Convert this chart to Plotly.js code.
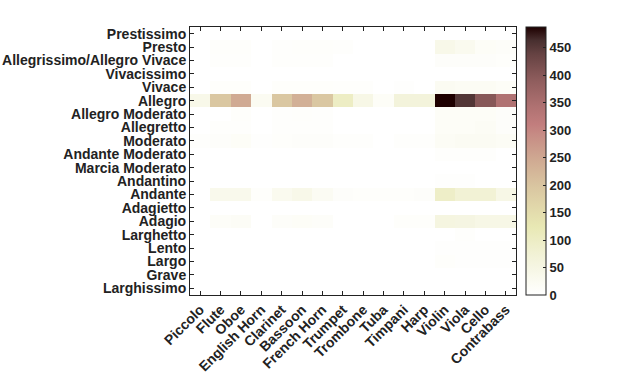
<!DOCTYPE html>
<html>
<head>
<meta charset="utf-8">
<script src="https://cdn.plot.ly/plotly-3.0.1.min.js"></script>
<style>html,body{margin:0;padding:0;background:#fff;}#chart{width:620px;height:373px;}</style>
</head>
<body>
<div id="chart"></div>
<script>
var instruments = ["Piccolo","Flute","Oboe","English Horn","Clarinet","Bassoon","French Horn","Trumpet","Trombone","Tuba","Timpani","Harp","Violin","Viola","Cello","Contrabass"];
var tempos = ["Prestissimo","Presto","Allegrissimo/Allegro Vivace","Vivacissimo","Vivace","Allegro","Allegro Moderato","Allegretto","Moderato","Andante Moderato","Marcia Moderato","Andantino","Andante","Adagietto","Adagio","Larghetto","Lento","Largo","Grave","Larghissimo"];

var prestissimo      = [0,0,0,0,0,0,0,0,0,0,0,0,0,0,0,0];
var presto           = [0,8,8,0,6,8,8,6,0,0,0,0,40,30,15,12];
var allegrissimo     = [0,6,6,0,5,5,5,0,0,0,0,0,10,10,10,8];
var vivacissimo      = [0,0,0,0,0,0,0,0,0,0,0,0,0,0,0,0];
var vivace           = [0,8,8,0,8,8,8,5,5,0,4,0,25,20,20,15];
var allegro          = [40,195,245,25,195,235,195,100,45,15,65,65,488,455,400,342];
var allegroModerato  = [0,0,8,0,6,8,6,0,0,0,0,0,15,15,15,10];
var allegretto       = [0,6,6,0,6,6,6,0,0,0,0,0,15,15,18,10];
var moderato         = [5,10,15,4,8,10,10,5,5,0,5,5,18,22,22,18];
var andanteModerato  = [0,0,0,0,0,0,0,0,0,0,0,0,5,5,5,0];
var marciaModerato   = [0,0,0,0,0,0,0,0,0,0,0,0,0,0,0,0];
var andantino        = [0,0,0,0,0,0,0,0,0,0,0,0,4,4,0,0];
var andante          = [0,35,35,8,30,40,22,10,8,8,8,10,95,75,75,45];
var adagietto        = [0,0,0,0,0,0,0,0,0,0,0,0,0,0,0,0];
var adagio           = [0,14,16,0,12,15,12,0,0,0,8,8,55,52,45,45];
var larghetto        = [0,0,0,0,0,0,0,0,0,0,0,0,0,5,0,0];
var lento            = [0,0,0,0,0,0,0,0,0,0,0,0,4,4,4,4];
var largo            = [0,0,0,0,0,0,0,0,0,0,0,0,8,4,4,4];
var grave            = [0,0,0,0,0,0,0,0,0,0,0,0,0,0,0,0];
var larghissimo      = [0,0,0,0,0,0,0,0,0,0,0,0,0,0,0,0];

var z = [prestissimo,presto,allegrissimo,vivacissimo,vivace,allegro,allegroModerato,allegretto,moderato,andanteModerato,marciaModerato,andantino,andante,adagietto,adagio,larghetto,lento,largo,grave,larghissimo];

var colorbarTicks = [0,50,100,150,200,250,300,350,400,450];

var pinkR = [
  [0.00,"rgb(255,255,255)"],
  [0.05,"rgb(251,251,242)"],
  [0.10,"rgb(246,246,228)"],
  [0.15,"rgb(242,242,214)"],
  [0.20,"rgb(237,237,198)"],
  [0.254,"rgb(232,232,180)"],
  [0.30,"rgb(228,222,174)"],
  [0.40,"rgb(218,199,161)"],
  [0.50,"rgb(208,171,147)"],
  [0.60,"rgb(198,139,132)"],
  [0.635,"rgb(194,126,126)"],
  [0.70,"rgb(176,114,114)"],
  [0.80,"rgb(143,93,93)"],
  [0.90,"rgb(101,66,66)"],
  [0.95,"rgb(72,47,47)"],
  [1.00,"rgb(30,0,0)"]
];

var tickFont = {family:"Liberation Sans, Arial, sans-serif", size:14, color:"#222", weight:"bold"};

var trace = {
  type:"heatmap",
  x: instruments,
  y: tempos,
  z: z,
  zmin: 0,
  zmax: 488,
  colorscale: pinkR,
  showscale: true,
  colorbar: {
    x: 1.031, xanchor:"left", xpad:0,
    y: 0.5, yanchor:"middle", ypad:0,
    len: 1, lenmode:"fraction",
    thickness: 20, thicknessmode:"pixels",
    outlinewidth: 1, outlinecolor:"#222",
    tickmode:"array", tickvals: colorbarTicks,
    ticks:"inside", ticklen:3, tickcolor:"#222",
    tickfont: {family:"Liberation Sans, Arial, sans-serif", size:13, color:"#222", weight:"bold"}
  }
};

var layout = {
  width:620, height:373,
  margin:{l:190, r:104, t:27, b:78, pad:0},
  paper_bgcolor:"#fff", plot_bgcolor:"#fff",
  font: {family:"Liberation Sans, Arial, sans-serif", size:14, color:"#222"},
  xaxis:{
    type:"category",
    tickmode:"array", tickvals: instruments, ticktext: instruments,
    tickangle:-45,
    ticks:"inside", ticklen:4, tickcolor:"#222",
    showline:true, linecolor:"#222", linewidth:1, mirror:"ticks",
    showgrid:false, zeroline:false,
    tickfont: tickFont
  },
  yaxis:{
    type:"category",
    autorange:"reversed",
    tickmode:"array", tickvals: tempos, ticktext: tempos,
    ticks:"inside", ticklen:4, tickcolor:"#222",
    showline:true, linecolor:"#222", linewidth:1, mirror:"ticks",
    showgrid:false, zeroline:false,
    tickfont: tickFont
  }
};

Plotly.newPlot("chart", [trace], layout, {displayModeBar:false, staticPlot:true});
</script>
</body>
</html>
